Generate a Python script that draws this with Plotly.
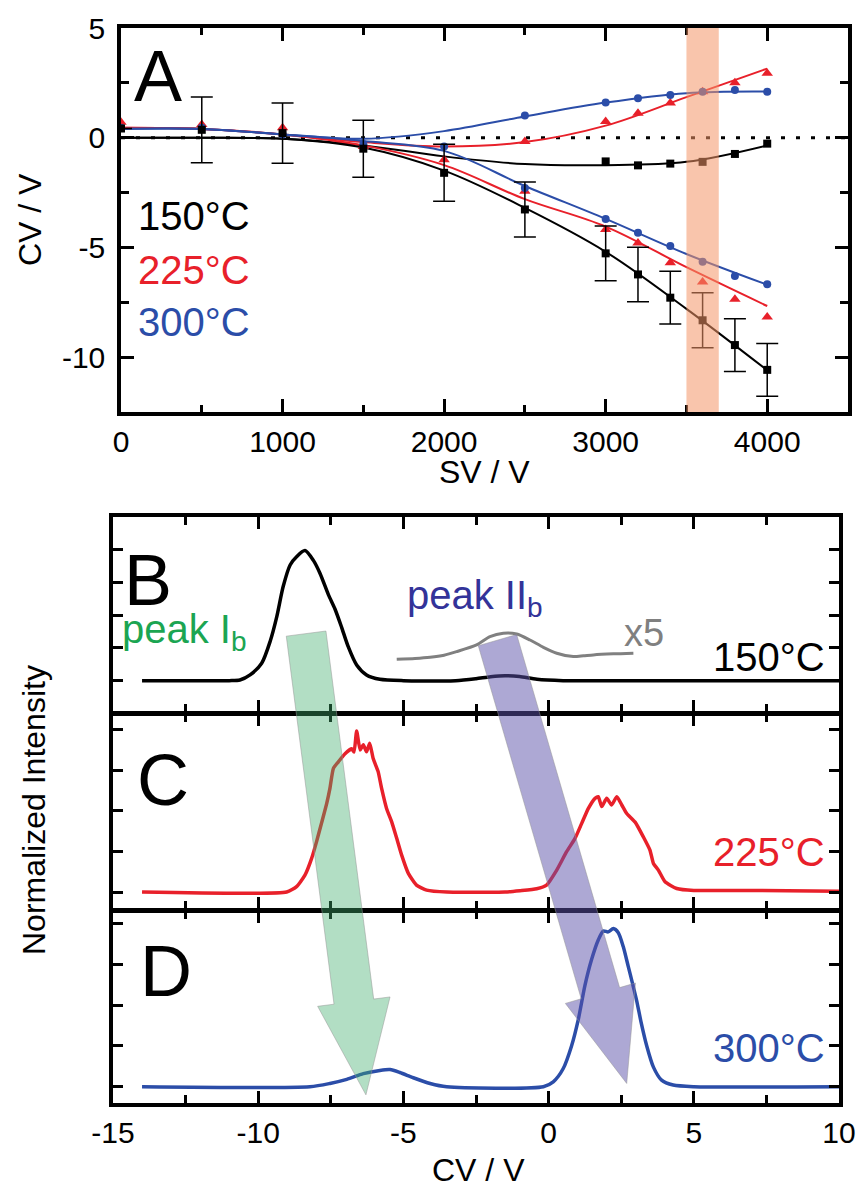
import math
import plotly.graph_objects as go

W, H = 862, 1194
FONT = "Arial, Liberation Sans, sans-serif"
BLACK, RED, BLUE = "#000000", "#E8202A", "#2B4DA8"

# ---------------- Panel A data ----------------
SV = [0, 500, 1000, 1500, 2000, 2500, 3000, 3200, 3400, 3600, 3800, 4000]
SV_UP = [2500, 3000, 3200, 3400, 3600, 3800, 4000]

black_low = [0.42, 0.36, 0.21, -0.5, -1.6, -3.27, -5.27, -6.23, -7.29, -8.32, -9.45, -10.58]
black_err = [0.0, 1.5, 1.37, 1.3, 1.3, 1.25, 1.25, 1.24, 1.2, 1.25, 1.2, 1.2]
black_up_sv = [3000, 3200, 3400, 3600, 3800, 4000]
black_up = [-1.08, -1.26, -1.18, -1.1, -0.74, -0.27]

red_low = [0.7, 0.6, 0.45, -0.4, -1.0, -2.44, -4.18, -4.8, -5.7, -6.58, -7.36, -8.17]
red_up = [-0.17, 0.74, 1.12, 1.58, 2.1, 2.5, 2.94]

blue_low = [0.45, 0.45, 0.15, -0.3, -0.4, -2.29, -3.7, -4.33, -4.94, -5.65, -6.3, -6.68]
blue_up = [1.01, 1.6, 1.8, 1.95, 2.1, 2.18, 2.1]

# fitted curves
FIT_SV = [0, 500, 1000, 1500, 2000, 2500, 3000, 3500, 4000]
fit_black_low = [0.0, 0.0, -0.05, -0.45, -1.5, -3.2, -5.2, -7.8, -10.6]
fit_black_up = [0.0, 0.0, -0.05, -0.35, -0.85, -1.2, -1.25, -1.1, -0.35]
fit_red_low = [0.45, 0.4, 0.15, -0.35, -1.25, -2.8, -4.05, -5.9, -7.67]
fit_red_up = [0.45, 0.4, 0.15, -0.2, -0.4, -0.2, 0.55, 1.85, 3.15]
fit_blue_low = [0.4, 0.4, 0.15, -0.15, -0.6, -2.2, -3.7, -5.3, -6.7]
fit_blue_up = [0.4, 0.4, 0.15, -0.05, 0.3, 0.97, 1.6, 2.03, 2.1]

BAND = [3500, 3700]

# ---------------- Panels B-D data ----------------
B_cv = [-14, -11, -10.63, -10.28, -9.88, -9.59, -9.36, -9.14, -8.90, -8.67, -8.39, -8.10, -7.87,
        -7.58, -7.36, -7.13, -6.90, -6.61, -6.27, -5.81, -5.0, -3.2, -2.5, -2.0, -1.5, -1.0,
        -0.4, 0.5, 5, 10]
B_int = [0, 0, 0.005, 0.044, 0.133, 0.30, 0.49, 0.72, 0.885, 0.95, 0.995, 0.92, 0.82, 0.656,
         0.55, 0.41, 0.26, 0.12, 0.044, 0.01, 0.0, 0.0, 0.015, 0.03, 0.038, 0.032, 0.01, 0.0,
         0.0, 0.0]

G_cv = [-5.23, -4.6, -4.08, -3.6, -3.17, -2.48, -2.02, -1.56, -1.10, -0.64, -0.18, 0.28, 0.85,
        1.2, 1.54, 2.23, 2.92]
G_int = [0.164, 0.17, 0.179, 0.195, 0.222, 0.273, 0.337, 0.363, 0.357, 0.311, 0.255, 0.21,
         0.184, 0.19, 0.197, 0.205, 0.21]

C_cv = [-14, -9.02, -8.68, -8.39, -8.16, -7.99, -7.81, -7.64, -7.53, -7.41, -7.24, -7.01, -6.78,
        -6.70, -6.61, -6.49, -6.38, -6.27, -6.16, -6.04, -5.87, -5.75, -5.58, -5.40, -5.23,
        -5.06, -4.83, -4.55, -4.20, -3.5, -1.5, -0.99, -0.41, -0.07, 0.28, 0.62, 0.91, 1.14,
        1.37, 1.60, 1.71, 1.83, 2.00, 2.17, 2.35, 2.52, 2.69, 2.98, 3.26, 3.49, 3.61, 3.78,
        4.01, 4.41, 5.0, 7.0, 10]
C_int = [0, 0, 0.033, 0.104, 0.207, 0.31, 0.43, 0.545, 0.637, 0.76, 0.80, 0.85, 0.88, 0.86,
         0.99, 0.873, 0.905, 0.862, 0.914, 0.82, 0.74, 0.637, 0.514, 0.43, 0.33, 0.227, 0.115,
         0.043, 0.012, 0.0, 0.0, 0.008, 0.02, 0.043, 0.135, 0.248, 0.33, 0.422, 0.514, 0.576,
         0.586, 0.525, 0.576, 0.535, 0.586, 0.535, 0.483, 0.43, 0.34, 0.258, 0.176, 0.135,
         0.063, 0.022, 0.01, 0.01, 0.005]

D_cv = [-14, -8.22, -7.53, -6.95, -6.38, -5.81, -5.46, -5.12, -4.66, -4.08, -3.51, -0.18, 0.16,
        0.50, 0.79, 1.02, 1.25, 1.48, 1.71, 1.88, 2.05, 2.23, 2.40, 2.57, 2.74, 2.88, 3.03, 3.18,
        3.38, 3.61, 3.89, 4.29, 5.0, 10]
D_int = [0, 0, 0.02, 0.045, 0.08, 0.10, 0.105, 0.087, 0.055, 0.02, 0, 0, 0.03, 0.11, 0.25,
         0.41, 0.62, 0.78, 0.90, 0.955, 0.95, 0.97, 0.945, 0.86, 0.74, 0.64, 0.53, 0.40, 0.25,
         0.12, 0.04, 0.01, 0, 0]

# arrows: (CV, intensity in panel B) -> (CV, intensity in panel D)
GREEN_ARROW = [(-8.35, 0.36), (-6.29, -0.05)]
PURPLE_ARROW = [(-1.76, 0.31), (2.69, 0.02)]

# ---------------- layout geometry (pixels) ----------------
A_X, A_Y = (121, 848), (28, 412)
BCD_X = (113, 839)
PANEL_Y = {"B": (517, 711.5), "C": (714.5, 908.5), "D": (911.5, 1103)}
PANEL_R = {"B": (-0.236, 1.252), "C": (-0.101, 1.091), "D": (-0.10, 1.075)}
CV_RANGE = (-15, 10)


def xd(p0, p1):
    return [p0 / W, p1 / W]


def yd(top, bot):
    return [1 - bot / H, 1 - top / H]


def cv_px(cv):
    return BCD_X[0] + (cv - CV_RANGE[0]) / (CV_RANGE[1] - CV_RANGE[0]) * (BCD_X[1] - BCD_X[0])


def int_py(val, panel):
    top, bot = PANEL_Y[panel]
    lo, hi = PANEL_R[panel]
    return top + (hi - val) / (hi - lo) * (bot - top)


def arrow_path(p0, p1, hw=20, hh=36.5, hl=94):
    x0, y0 = p0
    x1, y1 = p1
    dx, dy = x1 - x0, y1 - y0
    L = math.hypot(dx, dy)
    ux, uy = dx / L, dy / L
    nx, ny = -uy, ux
    bx, by = x1 - ux * hl, y1 - uy * hl
    pts = [(x0 + nx * hw, y0 + ny * hw), (bx + nx * hw, by + ny * hw),
           (bx + nx * hh, by + ny * hh), (x1, y1), (bx - nx * hh, by - ny * hh),
           (bx - nx * hw, by - ny * hw), (x0 - nx * hw, y0 - ny * hw)]
    return "M " + " L ".join(f"{x / W:.5f},{1 - y / H:.5f}" for x, y in pts) + " Z"


fig = go.Figure()

# ---------- Panel A traces ----------
def fit(y, color):
    fig.add_trace(go.Scatter(x=FIT_SV, y=y, mode="lines", line=dict(color=color, width=2, shape="spline", smoothing=1.0),
                             xaxis="x", yaxis="y", hoverinfo="skip"))

fit(fit_black_low, BLACK)
fit(fit_black_up, BLACK)
fit(fit_red_low, RED)
fit(fit_red_up, RED)
fit(fit_blue_low, BLUE)
fit(fit_blue_up, BLUE)

fig.add_trace(go.Scatter(x=SV, y=red_low, mode="markers", marker=dict(symbol="triangle-up", size=10, color=RED), xaxis="x", yaxis="y"))
fig.add_trace(go.Scatter(x=SV_UP, y=red_up, mode="markers", marker=dict(symbol="triangle-up", size=10, color=RED), xaxis="x", yaxis="y"))
fig.add_trace(go.Scatter(x=SV, y=blue_low, mode="markers", marker=dict(symbol="circle", size=8, color=BLUE), xaxis="x", yaxis="y"))
fig.add_trace(go.Scatter(x=SV_UP, y=blue_up, mode="markers", marker=dict(symbol="circle", size=8, color=BLUE), xaxis="x", yaxis="y"))
fig.add_trace(go.Scatter(x=SV, y=black_low, mode="markers", marker=dict(symbol="square", size=8, color=BLACK),
                         error_y=dict(type="data", array=black_err, visible=True, thickness=1.5, width=11, color=BLACK),
                         xaxis="x", yaxis="y"))
fig.add_trace(go.Scatter(x=black_up_sv, y=black_up, mode="markers", marker=dict(symbol="square", size=8, color=BLACK), xaxis="x", yaxis="y"))

# ---------- Panels B-D traces ----------
fig.add_trace(go.Scatter(x=B_cv, y=B_int, mode="lines", line=dict(color=BLACK, width=3.5, shape="spline", smoothing=0.7), xaxis="x2", yaxis="y2"))
fig.add_trace(go.Scatter(x=G_cv, y=G_int, mode="lines", line=dict(color="#808080", width=3, shape="spline", smoothing=0.7), xaxis="x2", yaxis="y2"))
fig.add_trace(go.Scatter(x=C_cv, y=C_int, mode="lines", line=dict(color=RED, width=3.5, shape="spline", smoothing=0.5), xaxis="x3", yaxis="y3"))
fig.add_trace(go.Scatter(x=D_cv, y=D_int, mode="lines", line=dict(color=BLUE, width=3.5, shape="spline", smoothing=0.7), xaxis="x4", yaxis="y4"))

# ---------- axes ----------
def axis_common():
    return dict(showline=True, linewidth=3.5, linecolor="black", mirror="allticks", automargin=False,
                ticks="inside", tickwidth=3, tickcolor="black", showgrid=False, zeroline=False,
                tickfont=dict(family=FONT, size=30, color="black"))

xa = axis_common()
xa.update(domain=xd(*A_X), anchor="y", range=[0, 4500], tickmode="array",
          tickvals=[0, 1000, 2000, 3000, 4000], ticktext=["0", "1000", "2000", "3000", "4000"],
          ticklen=13, minor=dict(tickmode="linear", tick0=0, dtick=500, ticks="inside", ticklen=7,
                                 tickwidth=3, tickcolor="black"))
ya = axis_common()
ya.update(domain=yd(*A_Y), anchor="x", range=[-12.5, 5], tickmode="array",
          tickvals=[-10, -5, 0, 5], ticktext=["-10", "-5", "0", "5"], ticklen=13, ticklabelstandoff=6,
          minor=dict(tickmode="linear", tick0=0, dtick=2.5, ticks="inside", ticklen=8,
                     tickwidth=3, tickcolor="black"))

layout_axes = {"xaxis": xa, "yaxis": ya}
for i, p in zip([2, 3, 4], ["B", "C", "D"]):
    xx = axis_common()
    xx.update(domain=xd(*BCD_X), anchor=f"y{i}", range=list(CV_RANGE), tickmode="array",
              tickvals=[-15, -10, -5, 0, 5, 10], ticktext=["-15", "-10", "-5", "0", "5", "10"],
              showticklabels=(p == "D"), ticklen=12,
              minor=dict(tickmode="linear", tick0=0, dtick=2.5, ticks="inside", ticklen=8,
                         tickwidth=3, tickcolor="black"))
    yy = axis_common()
    yy.update(domain=yd(*PANEL_Y[p]), anchor=f"x{i}", range=list(PANEL_R[p]), tickmode="linear",
              tick0=0, dtick=0.25, ticklen=10, showticklabels=False)
    layout_axes[f"xaxis{i}"] = xx
    layout_axes[f"yaxis{i}"] = yy

shapes = [
    dict(type="line", xref="x", yref="y", x0=0, x1=4500, y0=0, y1=0, layer="below",
         line=dict(color="black", width=3, dash="4px,11px")),
    dict(type="rect", xref="x", yref="y domain", x0=BAND[0], x1=BAND[1], y0=0, y1=1, layer="above",
         fillcolor="rgba(244,150,104,0.55)", line=dict(width=0)),
]
for arr, fill in [(GREEN_ARROW, "rgba(62,172,107,0.4)"), (PURPLE_ARROW, "rgba(91,81,169,0.5)")]:
    p0 = (cv_px(arr[0][0]), int_py(arr[0][1], "B"))
    p1 = (cv_px(arr[1][0]), int_py(arr[1][1], "D"))
    shapes.append(dict(type="path", xref="paper", yref="paper", path=arrow_path(p0, p1), layer="above",
                       fillcolor=fill, line=dict(color="rgba(150,150,150,0.5)", width=1)))


def ann(text, x, y, size, color="black", xanchor="left", angle=0):
    return dict(text=text, x=x / W, y=1 - y / H, xref="paper", yref="paper", xanchor=xanchor,
                yanchor="middle", showarrow=False, textangle=angle,
                font=dict(family=FONT, size=size, color=color))


annotations = [
    ann("A", 132, 76, 72),
    ann("150°C", 136, 216, 40),
    ann("225°C", 136, 270, 40, RED),
    ann("300°C", 136, 322, 40, BLUE),
    ann("CV / V", 30, 220, 32, angle=-90, xanchor="center"),
    ann("SV / V", 484, 472, 32, xanchor="center"),
    ann("B", 122, 580, 72),
    ann("C", 135, 780, 72),
    ann("D", 138, 971, 72),
    ann("peak I<sub>b</sub>", 120, 632, 40, "#1BA552"),
    ann("peak II<sub>b</sub>", 405, 598, 40, "#333399"),
    ann("x5", 622, 633, 38, "#808080"),
    ann("150°C", 827, 657, 40, xanchor="right"),
    ann("225°C", 827, 852, 40, RED, xanchor="right"),
    ann("300°C", 827, 1048, 40, BLUE, xanchor="right"),
    ann("Normalized Intensity", 34, 810, 32, angle=-90, xanchor="center"),
    ann("CV / V", 478, 1170, 32, xanchor="center"),
]

fig.update_layout(width=W, height=H, margin=dict(l=0, r=0, t=0, b=0, pad=0, autoexpand=False),
                  autosize=False, showlegend=False,
                  paper_bgcolor="white", plot_bgcolor="white", font=dict(family=FONT),
                  shapes=shapes, annotations=annotations, **layout_axes)

fig.write_html("out.html")
